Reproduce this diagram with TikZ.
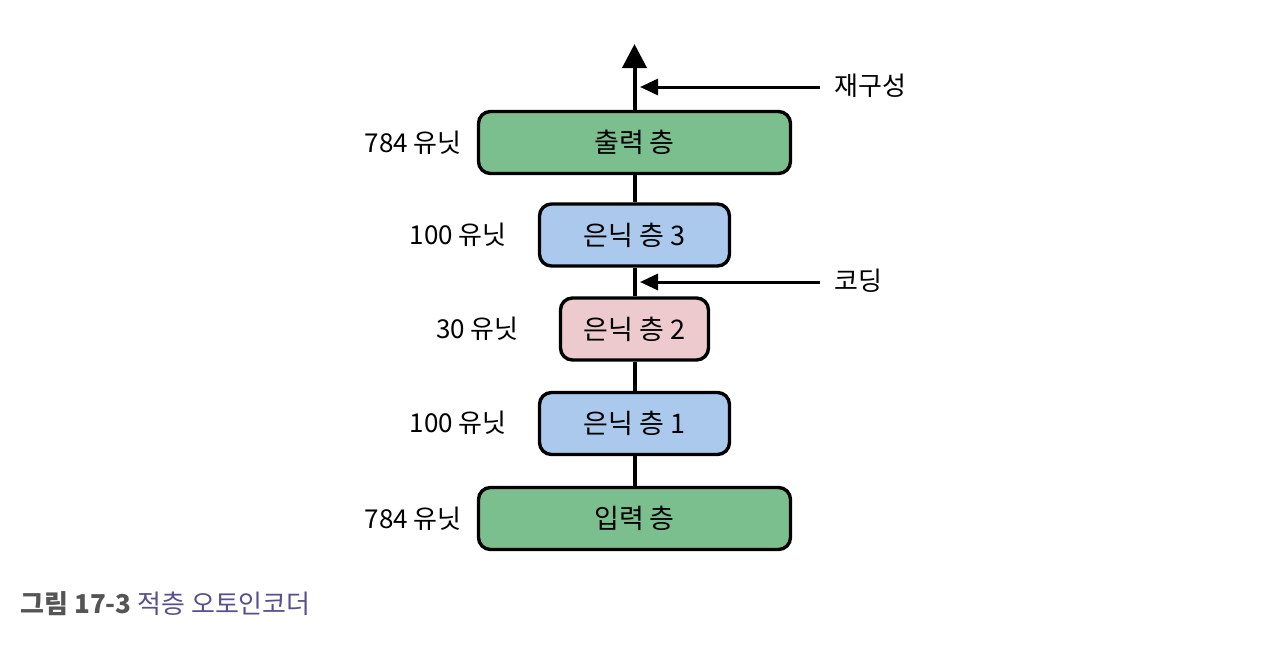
\documentclass[tikz,border=0pt]{standalone}
\usepackage{fontspec}
\setmainfont{Noto Sans CJK KR}
\usetikzlibrary{arrows.meta}
\definecolor{lgreen}{RGB}{124,191,143}
\definecolor{lblue}{RGB}{170,201,236}
\definecolor{lpink}{RGB}{236,202,206}
\definecolor{capgray}{RGB}{85,85,85}
\definecolor{cappurple}{RGB}{88,80,140}
\begin{document}
\begin{tikzpicture}[x=0.5pt,y=-0.5pt,
  layer/.style={draw=black,line width=1.7pt,rounded corners=6pt,minimum height=31pt,inner sep=0pt,font=\fontsize{13.5}{15}\selectfont},
  wide/.style={layer,fill=lgreen,minimum width=156pt},
  mid/.style={layer,fill=lblue,minimum width=95pt},
  narrow/.style={layer,fill=lpink,minimum width=74pt},
  units/.style={anchor=east,inner sep=0pt,font=\fontsize{13}{15}\selectfont},
  side/.style={anchor=west,inner sep=0pt,font=\fontsize{13}{15}\selectfont},
  conn/.style={line width=2pt},
  sidearrow/.style={line width=1.5pt,-{Triangle[length=9pt,width=8pt]}}
]
\useasboundingbox (0,0) rectangle (1265,650);
\node[wide]   (out) at (634.5,142.5) {출력 층};
\node[mid]    (h3)  at (634.5,235)   {은닉 층 3};
\node[narrow] (h2)  at (634.5,329)   {은닉 층 2};
\node[mid]    (h1)  at (634.5,423.5) {은닉 층 1};
\node[wide]   (in)  at (634.5,518.5) {입력 층};
\coordinate (top) at (634.5,44);
\draw[conn] (in) -- (h1);
\draw[conn] (h1) -- (h2);
\draw[conn] (h2) -- (h3);
\draw[conn] (h3) -- (out);
\draw[line width=2pt,-{Triangle[length=12pt,width=12pt]}] (out.north) -- (top);
\node[units] (lout) at (462,143) {784 유닛};
\node[units] (lh3)  at (507,235) {100 유닛};
\node[units] (lh2)  at (519,329) {30 유닛};
\node[units] (lh1)  at (507,423) {100 유닛};
\node[units] (lin)  at (462,519) {784 유닛};
\coordinate (rs) at (820,87);
\coordinate (re) at (640,87);
\coordinate (cs) at (820,282);
\coordinate (ce) at (640,282);
\draw[sidearrow] (rs) -- (re);
\draw[sidearrow] (cs) -- (ce);
\node[side] (rl) at (834,86) {재구성};
\node[side] (cl) at (834,281) {코딩};
\node[anchor=west,inner sep=0pt,font=\fontsize{13}{15}\selectfont] (cap) at (20,604) {\textcolor{capgray}{\bfseries 그림 17-3} \textcolor{cappurple}{적층 오토인코더}};
\end{tikzpicture}
\end{document}
